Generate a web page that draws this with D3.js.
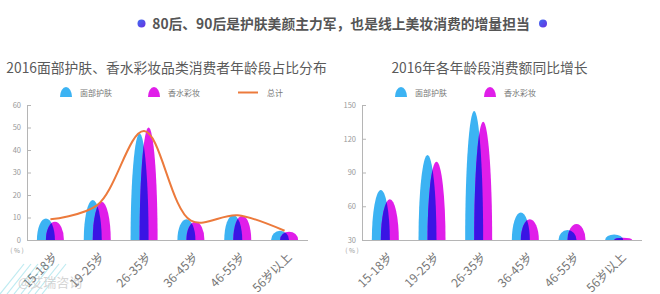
<!DOCTYPE html>
<html><head><meta charset="utf-8">
<script src="https://cdn.jsdelivr.net/npm/d3@7"></script>
<style>
html,body{margin:0;padding:0;background:#fff;}
text{font-family:"Noto Sans CJK SC","Noto Sans",sans-serif;}
</style></head>
<body><svg id="c" width="660" height="294"></svg>
<script>
const categories = ["15-18岁","19-25岁","26-35岁","36-45岁","46-55岁","56岁以上"];
const shareSkin = [9.6, 17.8, 47.4, 9.2, 11.1, 4.1];
const shareMakeup = [8.1, 17.0, 50.1, 8.1, 10.8, 3.7];
const shareTotal = [9.2, 15.5, 48.4, 8.6, 11.0, 4.1];
const growthSkin = [74.4, 105.6, 144.7, 54.6, 38.9, 35.0];
const growthMakeup = [66.2, 99.6, 135.2, 48.4, 44.2, 32.1];
const leftTicks = [0,10,20,30,40,50,60];
const rightTicks = [30,60,90,120,150];
const seriesNames = ["面部护肤","香水彩妆","总计"];
const headline = "80后、90后是护肤美颜主力军，也是线上美妆消费的增量担当";
const leftTitle = "2016面部护肤、香水彩妆品类消费者年龄段占比分布";
const rightTitle = "2016年各年龄段消费额同比增长";

const C = {blue:"#3cb3f3", mag:"#e01ee9", dark:"#3a14e4", orange:"#ec7a3c", axis:"#b5b5b5", tick:"#999", label:"#777"};
const svg = d3.select("#c");
const defs = svg.append("defs");
const g0 = defs.append("linearGradient").attr("id","dotg").attr("x1","0").attr("y1","0").attr("x2","1").attr("y2","1");
g0.append("stop").attr("offset","0").attr("stop-color","#3f6ef2");
g0.append("stop").attr("offset","1").attr("stop-color","#6a2fe0");

// headline
svg.append("text").attr("x",341).attr("y",29).attr("text-anchor","middle")
  .attr("font-size",13.8).attr("font-weight","bold").attr("fill","#555").text(headline);
svg.append("circle").attr("cx",141.5).attr("cy",23.5).attr("r",4).attr("fill","url(#dotg)");
svg.append("circle").attr("cx",543).attr("cy",23.5).attr("r",4).attr("fill","url(#dotg)");

function arch(x0,x1,base,top){
  const w=(x1-x0)/2, h=base-top;
  return `M${x0},${base} A${w},${h} 0 0 1 ${x1},${base} Z`;
}
function legendDome(g,x,y,color){
  g.append("path").attr("d",arch(x,x+12,y+5,y-5)).attr("fill",color);
}

function chart(opt){
  const g = svg.append("g");
  const x = d3.scaleBand().domain(categories).range([opt.x0,opt.x1]).padding(0);
  const y = d3.scaleLinear().domain(opt.domain).range([240,105]);
  // title
  g.append("text").attr("x",opt.titleX).attr("y",73).attr("text-anchor","middle")
    .attr("font-size",13.8).attr("fill","#5a5a5a").text(opt.title);
  // y axis
  const ya = g.append("g").attr("transform",`translate(${opt.x0},0)`)
    .call(d3.axisRight(y).tickValues(opt.ticks).tickSize(4).tickFormat(d3.format("d")));
  ya.select(".domain").attr("stroke",C.axis);
  ya.selectAll(".tick line").attr("stroke",C.axis);
  ya.selectAll(".tick text").attr("x",-6).attr("text-anchor","end").attr("fill",C.tick)
    .attr("font-size",7.5).attr("font-family","'Noto Sans',sans-serif");
  g.append("text").attr("x",opt.x0-10).attr("y",253).attr("text-anchor","middle")
    .attr("font-size",6.5).attr("fill",C.tick).text("( % )");
  // bars
  categories.forEach((c,i)=>{
    const cx = x(c)+x.bandwidth()/2;
    const bx0 = cx-13.5, bx1 = cx+4.5, mx0 = cx-4.5, mx1 = cx+13.5;
    const base = y(opt.domain[0]);
    const bp = arch(bx0,bx1,base,y(opt.a[i]));
    const mp = arch(mx0,mx1,base,y(opt.b[i]));
    const id = opt.id+"clip"+i;
    defs.append("clipPath").attr("id",id).append("path").attr("d",bp);
    g.append("path").attr("d",bp).attr("fill",C.blue);
    g.append("path").attr("d",mp).attr("fill",C.mag);
    g.append("path").attr("d",mp).attr("fill",C.dark).attr("clip-path",`url(#${id})`);
  });
  // x axis
  g.append("line").attr("x1",opt.x0).attr("x2",opt.x1).attr("y1",240.5).attr("y2",240.5).attr("stroke",C.axis);
  categories.forEach(c=>{
    const cx = x(c)+x.bandwidth()/2;
    g.append("text").attr("transform",`translate(${cx+8},258) rotate(-45)`)
      .attr("text-anchor","end").attr("font-size",12).attr("fill",C.label).text(c);
  });
  // total line
  if(opt.total){
    const line = d3.line().x((d,i)=>x(categories[i])+x.bandwidth()/2).y(d=>y(d)).curve(d3.curveCatmullRom.alpha(0.5));
    g.append("path").attr("d",line(opt.total)).attr("fill","none").attr("stroke",C.orange).attr("stroke-width",2);
  }
  // legend
  const lg = g.append("g");
  opt.legend.forEach(l=>{
    if(l.type==="line"){
      lg.append("line").attr("x1",l.x).attr("x2",l.x+20).attr("y1",92.5).attr("y2",92.5).attr("stroke",l.color).attr("stroke-width",2);
      lg.append("text").attr("x",l.x+29).attr("y",95.5).attr("font-size",8).attr("fill",C.label).text(l.name);
    } else {
      legendDome(lg,l.x,92,l.color);
      lg.append("text").attr("x",l.x+20).attr("y",95.5).attr("font-size",8).attr("fill",C.label).text(l.name);
    }
  });
  return g;
}

chart({id:"L", x0:27, x1:308, domain:[0,60], ticks:leftTicks, a:shareSkin, b:shareMakeup, total:shareTotal,
  title:leftTitle, titleX:166.5,
  legend:[{x:60,color:C.blue,name:seriesNames[0]},{x:148,color:C.mag,name:seriesNames[1]},{x:238,type:"line",color:C.orange,name:seriesNames[2]}]});
chart({id:"R", x0:362, x1:642, domain:[30,150], ticks:rightTicks, a:growthSkin, b:growthMakeup,
  title:rightTitle, titleX:489.5,
  legend:[{x:395,color:C.blue,name:seriesNames[0]},{x:484,color:C.mag,name:seriesNames[1]}]});

// watermark
const wm = svg.append("g").attr("opacity",0.35);
for(let k=0;k<7;k++){
  wm.append("line").attr("x1",k*7).attr("y1",294).attr("x2",k*7+24).attr("y2",264).attr("stroke","#46c6d8").attr("stroke-width",1.2);
}
wm.append("text").attr("x",18).attr("y",287).attr("font-size",13).attr("fill","#888").text("@艾瑞咨询");
</script></body></html>
